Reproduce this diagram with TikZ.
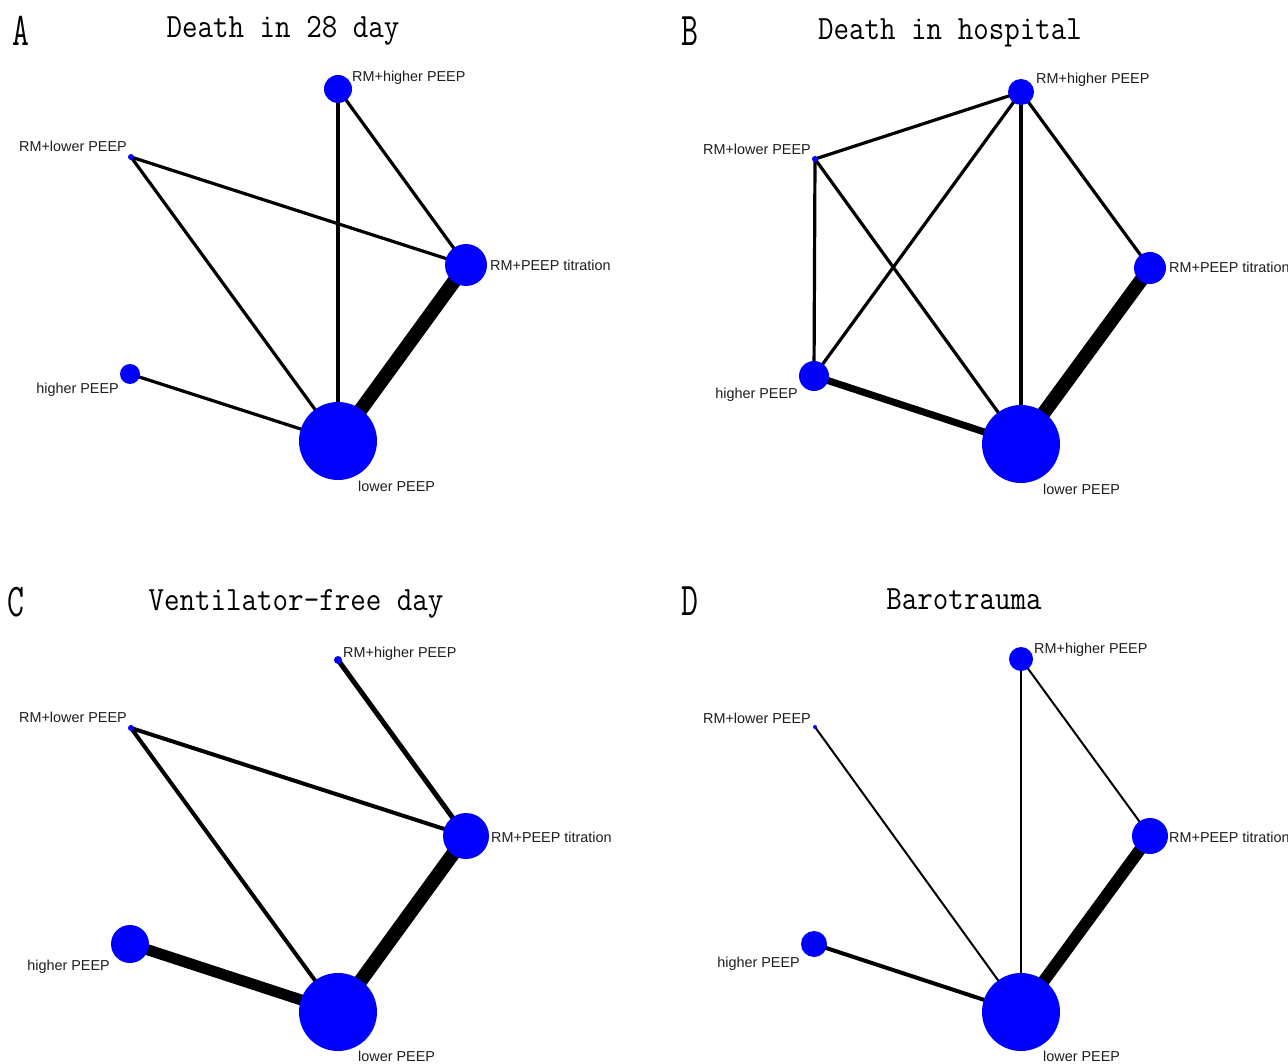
\documentclass[tikz,border=0pt]{standalone}
\usepackage{fontspec}
\setmainfont{Liberation Sans}
\usetikzlibrary{backgrounds}
\definecolor{nodeblue}{RGB}{0,0,255}
\definecolor{labgray}{RGB}{30,30,30}
\begin{document}
\begin{tikzpicture}[x=1pt,y=-1pt,
  dot/.style={circle, fill=nodeblue, draw=none, inner sep=0pt, minimum size=#1},
  lab/.style={inner sep=0pt, text=labgray, font=\fontsize{14.4}{16}\selectfont},
  ttl/.style={inner sep=0pt, anchor=base, font=\fontsize{34}{34}\selectfont\ttfamily},
  pan/.style={inner sep=0pt, anchor=base, font=\fontsize{47}{47}\selectfont\ttfamily},
  edge/.style={draw=black, line width=#1}]
\useasboundingbox (0,0) rectangle (1288,1064);

% ---------- Panel A ----------
\node[pan] (pA) at (21,46) {\scalebox{0.7}[1]{A}};
\node[ttl] (tA) at (283,38) {\scalebox{0.886}[1]{Death in 28 day}};
\node[dot=28pt] (aRH) at (338,89) {};
\node[dot=6pt]  (aRL) at (131,157) {};
\node[dot=42pt] (aRT) at (466,265) {};
\node[dot=20pt] (aHP) at (130,374) {};
\node[dot=78pt] (aLP) at (338,441) {};
\node[lab, anchor=base west] (laRH) at (352,82) {RM+higher PEEP};
\node[lab, anchor=base east] (laRL) at (127,152) {RM+lower PEEP};
\node[lab, anchor=base west] (laRT) at (490,271) {RM+PEEP titration};
\node[lab, anchor=base east] (laHP) at (119,394) {higher PEEP};
\node[lab, anchor=base west] (laLP) at (358,491) {lower PEEP};

% ---------- Panel B ----------
\node[pan] (pB) at (690,46) {\scalebox{0.7}[1]{B}};
\node[ttl] (tB) at (950,40) {\scalebox{0.886}[1]{Death in hospital}};
\node[dot=26pt] (bRH) at (1021,92) {};
\node[dot=6pt]  (bRL) at (815,159) {};
\node[dot=32pt] (bRT) at (1150,268) {};
\node[dot=30pt] (bHP) at (814,376) {};
\node[dot=78pt] (bLP) at (1021,444) {};
\node[lab, anchor=base west] (lbRH) at (1036,84) {RM+higher PEEP};
\node[lab, anchor=base east] (lbRL) at (811,155) {RM+lower PEEP};
\node[lab, anchor=base west] (lbRT) at (1169,273) {RM+PEEP titration};
\node[lab, anchor=base east] (lbHP) at (798,399) {higher PEEP};
\node[lab, anchor=base west] (lbLP) at (1043,494) {lower PEEP};

% ---------- Panel C ----------
\node[pan] (pC) at (16,616) {\scalebox{0.7}[1]{C}};
\node[ttl] (tC) at (296,610) {\scalebox{0.886}[1]{Ventilator-free day}};
\node[dot=8pt]  (cRH) at (338,660) {};
\node[dot=6pt]  (cRL) at (131,728) {};
\node[dot=46pt] (cRT) at (466,836) {};
\node[dot=38pt] (cHP) at (130,944) {};
\node[dot=78pt] (cLP) at (338,1012) {};
\node[lab, anchor=base west] (lcRH) at (343,657) {RM+higher PEEP};
\node[lab, anchor=base east] (lcRL) at (127,722) {RM+lower PEEP};
\node[lab, anchor=base west] (lcRT) at (491,842) {RM+PEEP titration};
\node[lab, anchor=base east] (lcHP) at (110,970) {higher PEEP};
\node[lab, anchor=base west] (lcLP) at (358,1061) {lower PEEP};

% ---------- Panel D ----------
\node[pan] (pD) at (690,615) {\scalebox{0.7}[1]{D}};
\node[ttl] (tD) at (964,609) {\scalebox{0.886}[1]{Barotrauma}};
\node[dot=24pt] (dRH) at (1021,659) {};
\node[dot=4pt]  (dRL) at (815,727) {};
\node[dot=36pt] (dRT) at (1150,836) {};
\node[dot=26pt] (dHP) at (814,944) {};
\node[dot=78pt] (dLP) at (1021,1012) {};
\node[lab, anchor=base west] (ldRH) at (1034,653) {RM+higher PEEP};
\node[lab, anchor=base east] (ldRL) at (811,723) {RM+lower PEEP};
\node[lab, anchor=base west] (ldRT) at (1169,842) {RM+PEEP titration};
\node[lab, anchor=base east] (ldHP) at (800,967) {higher PEEP};
\node[lab, anchor=base west] (ldLP) at (1043,1061) {lower PEEP};

\begin{scope}[on background layer]
  \fill[white] (0,0) rectangle (1288,1064);
  % A
  \draw[edge=3.2pt] (aRL.center) -- (aRT.center);
  \draw[edge=3.2pt] (aRL.center) -- (aLP.center);
  \draw[edge=3.2pt] (aRH.center) -- (aRT.center);
  \draw[edge=3.2pt] (aRH.center) -- (aLP.center);
  \draw[edge=3.2pt] (aHP.center) -- (aLP.center);
  \draw[edge=14pt]  (aRT.center) -- (aLP.center);
  % B
  \draw[edge=3.2pt] (bRL.center) -- (bRH.center);
  \draw[edge=3.2pt] (bRL.center) -- (bHP.center);
  \draw[edge=3.2pt] (bRL.center) -- (bLP.center);
  \draw[edge=3.2pt] (bRH.center) -- (bHP.center);
  \draw[edge=3.2pt] (bRH.center) -- (bLP.center);
  \draw[edge=3.2pt] (bRH.center) -- (bRT.center);
  \draw[edge=7pt]   (bHP.center) -- (bLP.center);
  \draw[edge=14pt]  (bRT.center) -- (bLP.center);
  % C
  \draw[edge=5pt]   (cRH.center) -- (cRT.center);
  \draw[edge=4pt]   (cRL.center) -- (cRT.center);
  \draw[edge=4pt]   (cRL.center) -- (cLP.center);
  \draw[edge=11pt]  (cHP.center) -- (cLP.center);
  \draw[edge=14pt]  (cRT.center) -- (cLP.center);
  % D
  \draw[edge=2pt]   (dRH.center) -- (dLP.center);
  \draw[edge=2pt]   (dRH.center) -- (dRT.center);
  \draw[edge=2pt]   (dRL.center) -- (dLP.center);
  \draw[edge=4pt]   (dHP.center) -- (dLP.center);
  \draw[edge=12pt]  (dRT.center) -- (dLP.center);
\end{scope}
\end{tikzpicture}
\end{document}
